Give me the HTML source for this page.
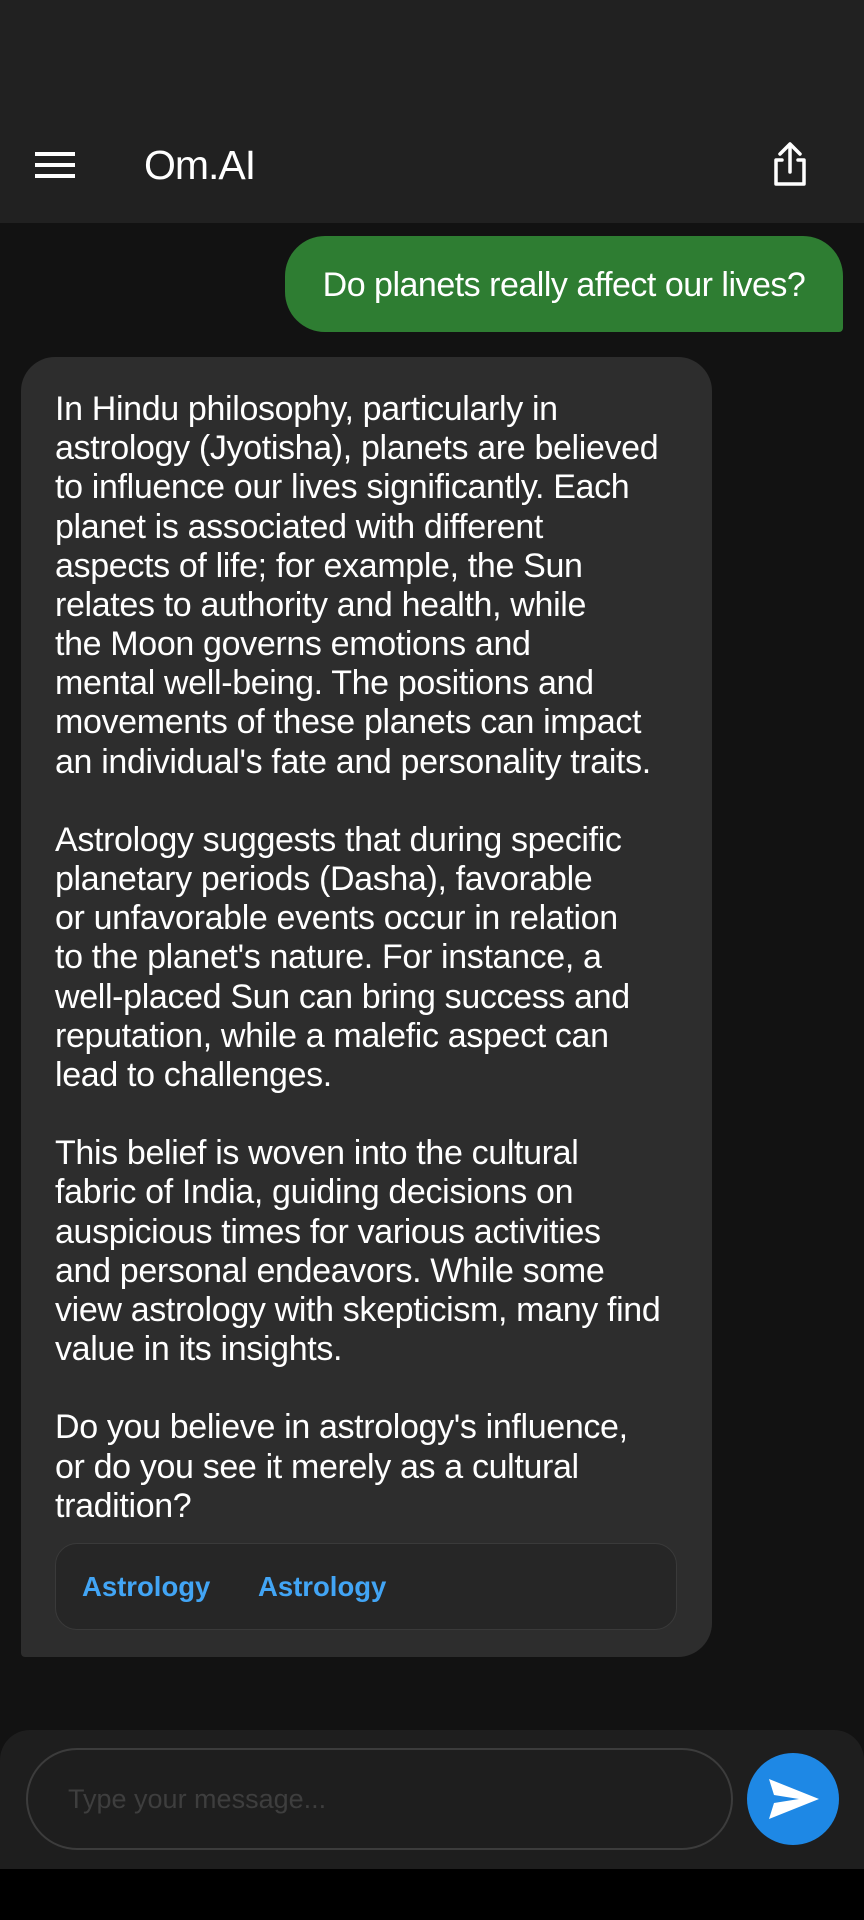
<!DOCTYPE html>
<html><head><meta charset="utf-8"><style>
*{margin:0;padding:0;box-sizing:border-box}
body{width:864px;height:1920px;background:#121212;font-family:"Liberation Sans",sans-serif;color:#fff;position:relative;overflow:hidden}
.header{position:absolute;left:0;top:0;width:864px;height:223px;background:#212121}
.menu{position:absolute;left:35px;top:152px;width:40px;height:26px}
.menu span{position:absolute;left:0;width:40px;height:4px;background:#fff}
.title{position:absolute;left:144px;top:141px;font-size:41px;line-height:48px;letter-spacing:-1px}
.share{position:absolute;left:768px;top:140px}
.user{position:absolute;left:285px;top:236px;width:558px;height:96px;background:#2e7d32;border-radius:40px 40px 4px 40px;font-size:34px;line-height:98px;text-align:center;letter-spacing:-0.5px}
.bot{position:absolute;left:21px;top:357px;width:691px;height:1300px;background:#2d2d2d;border-radius:34px 34px 34px 4px}
.txt{position:absolute;left:55px;top:390px;font-size:34px;line-height:39.17px;white-space:pre;letter-spacing:-0.35px}
.tags{position:absolute;left:55px;top:1543px;width:622px;height:87px;border:1px solid #3a3a3a;border-radius:22px;background:#262626}
.tag{position:absolute;top:27px;font-size:27.5px;font-weight:bold;color:#42a5f5}
.bar{position:absolute;left:0;top:1730px;width:864px;height:139px;background:#1e1e1e;border-radius:30px 30px 0 0}
.input{position:absolute;left:26px;top:1748px;width:707px;height:102px;border:2px solid #3c3c3c;border-radius:51px;font-size:27px;color:#3e3e3e;padding-left:40px;line-height:98px}
.send{position:absolute;left:747px;top:1753px;width:92px;height:92px;border-radius:50%;background:#1e88e5}
.bottom{position:absolute;left:0;top:1869px;width:864px;height:51px;background:#000}
</style></head><body>
<div class="header">
 <div class="menu"><span style="top:0"></span><span style="top:11px"></span><span style="top:22px"></span></div>
 <div class="title">Om.AI</div>
 <svg class="share" width="44" height="50" viewBox="0 0 44 50"><path d="M22 4 V32 M12 14 L22 4 L32 14 M14 20 H8 V44 H36 V20 H30" stroke="#fff" stroke-width="3.5" fill="none" stroke-linejoin="round" stroke-linecap="round"/></svg>
</div>
<div class="user">Do planets really affect our lives?</div>
<div class="bot"></div>
<div class="txt">In Hindu philosophy, particularly in
astrology (Jyotisha), planets are believed
to influence our lives significantly. Each
planet is associated with different
aspects of life; for example, the Sun
relates to authority and health, while
the Moon governs emotions and
mental well-being. The positions and
movements of these planets can impact
an individual's fate and personality traits.

Astrology suggests that during specific
planetary periods (Dasha), favorable
or unfavorable events occur in relation
to the planet's nature. For instance, a
well-placed Sun can bring success and
reputation, while a malefic aspect can
lead to challenges.

This belief is woven into the cultural
fabric of India, guiding decisions on
auspicious times for various activities
and personal endeavors. While some
view astrology with skepticism, many find
value in its insights.

Do you believe in astrology's influence,
or do you see it merely as a cultural
tradition?</div>
<div class="tags">
 <span class="tag" style="left:26px">Astrology</span>
 <span class="tag" style="left:202px">Astrology</span>
</div>
<div class="bar"></div>
<div class="input">Type your message...</div>
<div class="send"><svg width="92" height="92" viewBox="0 0 92 92"><path d="M22 26 L72 46 L22 66 L27 50 L52 46 L27 42 Z" fill="#fff"/></svg></div>
<div class="bottom"></div>
</body></html>
